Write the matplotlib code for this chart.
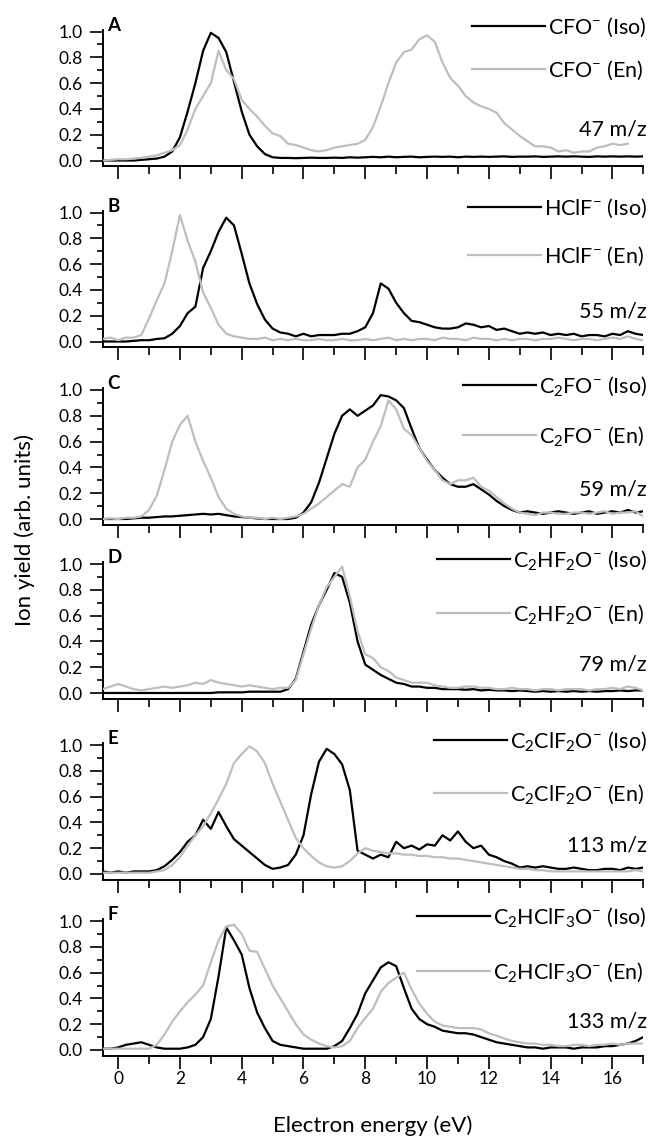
"""Six-panel ion yield curves (Iso vs En) against electron energy."""

import matplotlib
matplotlib.use("Agg")
import matplotlib.pyplot as plt
import numpy as np
from matplotlib.lines import Line2D
from matplotlib.ticker import MultipleLocator

# electron energy grid (eV), 0.25 eV steps
ENERGY = np.arange(-0.5, 17.01, 0.25)

A_ISO = [0.0, 0.0, 0.0, 0.0, 0.0, 0.005, 0.01, 0.015, 0.03, 0.07,
         0.18, 0.38, 0.6, 0.85, 0.99, 0.95, 0.84, 0.61, 0.38, 0.2,
         0.11, 0.05, 0.025, 0.02, 0.02, 0.018, 0.02, 0.022, 0.02, 0.02,
         0.022, 0.02, 0.025, 0.022, 0.025, 0.028, 0.025, 0.03, 0.025, 0.028,
         0.03, 0.025, 0.028, 0.03, 0.028, 0.03, 0.025, 0.03, 0.028, 0.03,
         0.028, 0.03, 0.032, 0.028, 0.03, 0.03, 0.032, 0.028, 0.03, 0.032,
         0.03, 0.032, 0.03, 0.028, 0.032, 0.03, 0.032, 0.03, 0.032, 0.03,
         0.032]
A_EN = [0.0, 0.005, 0.01, 0.01, 0.015, 0.02, 0.03, 0.04, 0.06, 0.08,
        0.12, 0.24, 0.4, 0.5, 0.6, 0.85, 0.7, 0.63, 0.47, 0.4,
        0.34, 0.27, 0.21, 0.19, 0.13, 0.12, 0.1, 0.08, 0.07, 0.08,
        0.1, 0.11, 0.12, 0.13, 0.16, 0.26, 0.42, 0.6, 0.76, 0.84,
        0.86, 0.94, 0.97, 0.92, 0.76, 0.64, 0.58, 0.5, 0.45, 0.42,
        0.4, 0.37, 0.29, 0.24, 0.19, 0.15, 0.11, 0.11, 0.1, 0.07,
        0.08, 0.06, 0.07, 0.07, 0.1, 0.11, 0.13, 0.12, 0.13, np.nan,
        np.nan]
B_ISO = [0.0, 0.0, 0.0, 0.0, 0.005, 0.01, 0.01, 0.02, 0.025, 0.06,
         0.12, 0.22, 0.27, 0.57, 0.7, 0.85, 0.96, 0.9, 0.68, 0.45,
         0.29, 0.17, 0.1, 0.07, 0.06, 0.04, 0.06, 0.04, 0.05, 0.05,
         0.05, 0.06, 0.06, 0.08, 0.11, 0.22, 0.45, 0.41, 0.3, 0.22,
         0.16, 0.15, 0.13, 0.11, 0.1, 0.1, 0.11, 0.14, 0.13, 0.11,
         0.12, 0.09, 0.1, 0.08, 0.06, 0.07, 0.06, 0.07, 0.05, 0.06,
         0.05, 0.06, 0.04, 0.05, 0.05, 0.04, 0.06, 0.05, 0.08, 0.06,
         0.05]
B_EN = [0.02, 0.03, 0.01, 0.03, 0.03, 0.05, 0.18, 0.32, 0.45, 0.7,
        0.98, 0.78, 0.62, 0.38, 0.26, 0.13, 0.06, 0.04, 0.03, 0.02,
        0.02, 0.03, 0.01, 0.02, 0.01, 0.02, 0.01, 0.01, 0.02, 0.01,
        0.01, 0.02, 0.01, 0.01, 0.02, 0.01, 0.02, 0.03, 0.01, 0.02,
        0.01, 0.02, 0.02, 0.01, 0.03, 0.02, 0.02, 0.01, 0.03, 0.02,
        0.02, 0.01, 0.02, 0.01, 0.02, 0.02, 0.01, 0.02, 0.02, 0.03,
        0.02, 0.01, 0.02, 0.02, 0.01, 0.02, 0.03, 0.02, 0.04, 0.02,
        0.01]
C_ISO = [0.0, 0.0, 0.0, 0.0, 0.005, 0.01, 0.01, 0.015, 0.02, 0.02,
         0.025, 0.03, 0.035, 0.04, 0.035, 0.04, 0.03, 0.02, 0.015, 0.01,
         0.005, 0.0, 0.0, 0.0, 0.0, 0.01, 0.05, 0.13, 0.28, 0.47,
         0.66, 0.8, 0.85, 0.8, 0.84, 0.88, 0.96, 0.95, 0.92, 0.86,
         0.7, 0.55, 0.46, 0.38, 0.32, 0.27, 0.25, 0.25, 0.27, 0.23,
         0.19, 0.14, 0.1, 0.07, 0.05, 0.06, 0.05, 0.04, 0.05, 0.06,
         0.05, 0.04, 0.05, 0.06, 0.04, 0.05, 0.06, 0.05, 0.07, 0.05,
         0.06]
C_EN = [0.0, 0.005, 0.0, 0.01, 0.01, 0.02, 0.07, 0.18, 0.38, 0.6,
        0.73, 0.8, 0.6, 0.45, 0.32, 0.17, 0.08, 0.04, 0.02, 0.01,
        0.01, 0.0, 0.01, 0.0, 0.01, 0.02, 0.04, 0.08, 0.12, 0.17,
        0.22, 0.27, 0.25, 0.4, 0.46, 0.6, 0.72, 0.92, 0.85, 0.7,
        0.65, 0.55, 0.45, 0.38, 0.3, 0.27, 0.3, 0.3, 0.32, 0.25,
        0.22, 0.17, 0.12, 0.08, 0.05, 0.04, 0.03, 0.05, 0.05, 0.04,
        0.04, 0.05, 0.05, 0.04, 0.05, 0.06, 0.04, 0.05, 0.05, 0.06,
        0.02]
D_ISO = [0.0, 0.0, 0.0, 0.0, 0.0, 0.0, 0.0, 0.0, 0.0, 0.0,
         0.0, 0.0, 0.0, 0.0, 0.0, 0.005, 0.005, 0.005, 0.005, 0.01,
         0.01, 0.01, 0.01, 0.01, 0.03, 0.11, 0.32, 0.53, 0.68, 0.8,
         0.93, 0.9, 0.7, 0.4, 0.22, 0.18, 0.14, 0.11, 0.08, 0.07,
         0.05, 0.05, 0.04, 0.04, 0.03, 0.03, 0.03, 0.025, 0.03, 0.02,
         0.025, 0.02, 0.02, 0.015, 0.02, 0.015, 0.01, 0.015, 0.01, 0.015,
         0.01, 0.015, 0.01, 0.015, 0.01, 0.015, 0.015, 0.02, 0.015, 0.02,
         0.02]
D_EN = [0.03, 0.05, 0.07, 0.05, 0.03, 0.02, 0.03, 0.04, 0.05, 0.04,
        0.05, 0.06, 0.08, 0.07, 0.1, 0.08, 0.07, 0.06, 0.05, 0.06,
        0.05, 0.04, 0.03, 0.04, 0.04, 0.1, 0.3, 0.5, 0.68, 0.82,
        0.9, 0.98, 0.75, 0.48, 0.3, 0.27, 0.2, 0.17, 0.12, 0.1,
        0.08, 0.08, 0.08, 0.06, 0.05, 0.04, 0.04, 0.05, 0.05, 0.04,
        0.04, 0.03, 0.03, 0.04, 0.03, 0.03, 0.02, 0.03, 0.03, 0.02,
        0.03, 0.03, 0.03, 0.02, 0.03, 0.03, 0.04, 0.03, 0.05, 0.04,
        0.02]
E_ISO = [0.02, 0.01, 0.02, 0.01, 0.02, 0.02, 0.02, 0.03, 0.06, 0.11,
         0.17, 0.25, 0.3, 0.42, 0.35, 0.48, 0.37, 0.27, 0.22, 0.17,
         0.12, 0.07, 0.04, 0.05, 0.07, 0.15, 0.3, 0.62, 0.87, 0.97,
         0.93, 0.85, 0.65, 0.18, 0.15, 0.12, 0.15, 0.13, 0.25, 0.2,
         0.22, 0.19, 0.23, 0.22, 0.3, 0.26, 0.33, 0.25, 0.2, 0.22,
         0.15, 0.13, 0.1, 0.08, 0.05, 0.06, 0.05, 0.06, 0.05, 0.04,
         0.04, 0.05, 0.04, 0.03, 0.03, 0.04, 0.04, 0.03, 0.05, 0.04,
         0.05]
E_EN = [0.01, 0.01, 0.01, 0.01, 0.01, 0.01, 0.01, 0.02, 0.03, 0.07,
        0.13, 0.22, 0.3, 0.37, 0.47, 0.58, 0.7, 0.86, 0.93, 0.99,
        0.95, 0.86, 0.7, 0.56, 0.42, 0.28, 0.2, 0.14, 0.09, 0.06,
        0.05, 0.06, 0.1, 0.16, 0.2, 0.18, 0.17, 0.16, 0.16, 0.15,
        0.15, 0.14, 0.14, 0.13, 0.13, 0.12, 0.12, 0.11, 0.1, 0.09,
        0.08, 0.07, 0.06, 0.05, 0.04, 0.04, 0.03, 0.03, 0.02, 0.02,
        0.02, 0.02, 0.02, 0.02, 0.02, 0.02, 0.02, 0.02, 0.02, 0.03,
        0.02]
F_ISO = [0.01, 0.01, 0.02, 0.04, 0.05, 0.06, 0.04, 0.02, 0.01, 0.01,
         0.01, 0.02, 0.04, 0.1, 0.24, 0.57, 0.95, 0.85, 0.74, 0.48,
         0.29, 0.17, 0.07, 0.04, 0.03, 0.02, 0.01, 0.01, 0.01, 0.01,
         0.03, 0.07, 0.17, 0.28, 0.44, 0.54, 0.64, 0.68, 0.65, 0.48,
         0.32, 0.24, 0.2, 0.18, 0.15, 0.14, 0.13, 0.13, 0.12, 0.1,
         0.08, 0.06, 0.05, 0.04, 0.03, 0.02, 0.02, 0.01, 0.02, 0.02,
         0.02, 0.01, 0.02, 0.02, 0.02, 0.03, 0.03, 0.04, 0.05, 0.07,
         0.1]
F_EN = [0.01, 0.01, 0.01, 0.01, 0.01, 0.01, 0.01, 0.04, 0.12, 0.22,
        0.3, 0.37, 0.43, 0.5, 0.68, 0.85, 0.96, 0.97, 0.9, 0.77,
        0.76, 0.63, 0.5, 0.4, 0.3, 0.2, 0.12, 0.08, 0.05, 0.03,
        0.02, 0.03, 0.07, 0.17, 0.25, 0.32, 0.45, 0.52, 0.56, 0.6,
        0.47, 0.36, 0.28, 0.22, 0.19, 0.18, 0.17, 0.17, 0.17, 0.16,
        0.13, 0.11, 0.09, 0.07, 0.06, 0.05, 0.05, 0.04, 0.04, 0.03,
        0.03, 0.04, 0.04, 0.03, 0.04, 0.04, 0.05, 0.04, 0.05, 0.05,
        0.05]

PANELS = ["A", "B", "C", "D", "E", "F"]
ISO_CURVES = [A_ISO, B_ISO, C_ISO, D_ISO, E_ISO, F_ISO]
EN_CURVES = [A_EN, B_EN, C_EN, D_EN, E_EN, F_EN]
IONS = [r"CFO$^{-}$", r"HClF$^{-}$", r"C$_2$FO$^{-}$", r"C$_2$HF$_2$O$^{-}$",
        r"C$_2$ClF$_2$O$^{-}$", r"C$_2$HClF$_3$O$^{-}$"]
MASSES = ["47 m/z", "55 m/z", "59 m/z", "79 m/z", "113 m/z", "133 m/z"]

ISO_COLOR = "#000000"
EN_COLOR = "#BEBEBE"
FONT = "Lato"
LEGEND_SIZE = 15.5

# layout, in pixels of the 652 x 1137 output
FIG_W, FIG_H = 652, 1137
AX_LEFT, AX_RIGHT = 102.7, 643.3
ZERO_PX = [160.5, 341.5, 519.0, 693.0, 874.0, 1050.0]
UNIT_PX = 129.0
Y_MIN, Y_MAX = -0.045, 1.015
ISO_ROW = 1.04
EN_ROW = [0.71, 0.67, 0.65, 0.62, 0.63, 0.61]
MASS_ROW = [0.24, 0.23, 0.23, 0.22, 0.22, 0.22]
TEXT_RIGHT = 647.0


def _fx(px):
    return px / FIG_W


def _fy(px_from_top):
    return 1 - px_from_top / FIG_H


def _style_axes(ax, bottom):
    for side in ("top", "right"):
        ax.spines[side].set_visible(False)
    for side in ("left", "bottom"):
        ax.spines[side].set_linewidth(1.4)
    ax.set_xlim(-0.5, 17)
    ax.set_ylim(Y_MIN, Y_MAX)
    ax.xaxis.set_major_locator(MultipleLocator(2))
    ax.xaxis.set_minor_locator(MultipleLocator(1))
    ax.yaxis.set_major_locator(MultipleLocator(0.2))
    ax.yaxis.set_minor_locator(MultipleLocator(0.1))
    ax.tick_params(which="major", direction="out", length=9.2, width=1.2,
                   labelsize=12.5)
    ax.tick_params(which="minor", direction="out", width=1.2)
    ax.tick_params(axis="x", which="minor", length=6)
    ax.tick_params(axis="y", which="minor", length=4.5)
    ax.tick_params(axis="y", which="major", pad=5)
    ax.tick_params(axis="x", labelbottom=bottom, pad=2)
    ax.yaxis.set_major_formatter(plt.FuncFormatter(lambda v, _: f"{v:.1f}"))


def main():
    plt.rcParams.update({
        "font.family": [FONT, "DejaVu Sans"],
        "mathtext.fontset": "custom",
        "mathtext.rm": FONT,
        "mathtext.it": FONT + ":italic",
        "mathtext.bf": FONT + ":bold",
    })
    fig = plt.figure(figsize=(FIG_W / 100, FIG_H / 100), dpi=100)

    for i, zero in enumerate(ZERO_PX):
        top = zero - Y_MAX * UNIT_PX
        bot = zero - Y_MIN * UNIT_PX
        ax = fig.add_axes([_fx(AX_LEFT), _fy(bot), _fx(AX_RIGHT - AX_LEFT),
                           (bot - top) / FIG_H])
        ax.patch.set_alpha(0)
        ax.plot(ENERGY, ISO_CURVES[i], color=ISO_COLOR, lw=1.6, zorder=3)
        ax.plot(ENERGY, EN_CURVES[i], color=EN_COLOR, lw=1.6, zorder=4)
        _style_axes(ax, bottom=(i == len(ZERO_PX) - 1))
        ax.text(0.008, 1.05, PANELS[i], transform=ax.get_yaxis_transform(),
                ha="left", va="center", fontsize=13.5, fontweight="bold",
                clip_on=False)

    # hand-built legends, text right-aligned near the figure edge
    cap_half = 0.36 * LEGEND_SIZE * 100 / 72
    iso_texts = []
    for i, zero in enumerate(ZERO_PX):
        y_iso = zero - ISO_ROW * UNIT_PX
        t = fig.text(_fx(TEXT_RIGHT), _fy(y_iso + cap_half), IONS[i] + " (Iso)",
                     ha="right", va="baseline", fontsize=LEGEND_SIZE)
        iso_texts.append(t)
        y_mass = zero - MASS_ROW[i] * UNIT_PX
        fig.text(_fx(TEXT_RIGHT), _fy(y_mass), MASSES[i], ha="right",
                 va="center", fontsize=LEGEND_SIZE)

    fig.canvas.draw()
    renderer = fig.canvas.get_renderer()
    for i, zero in enumerate(ZERO_PX):
        left = iso_texts[i].get_window_extent(renderer).x0
        y_iso = zero - ISO_ROW * UNIT_PX
        y_en = zero - EN_ROW[i] * UNIT_PX
        fig.text(_fx(left), _fy(y_en + cap_half), IONS[i] + " (En)",
                 ha="left", va="baseline", fontsize=LEGEND_SIZE)
        for y_row, color in ((y_iso, ISO_COLOR), (y_en, EN_COLOR)):
            fig.add_artist(Line2D([_fx(left - 76), _fx(left - 3)],
                                  [_fy(y_row), _fy(y_row)],
                                  transform=fig.transFigure, color=color,
                                  lw=1.6))

    fig.text(_fx(25), _fy(530), "Ion yield (arb. units)", rotation=90,
             ha="center", va="center", fontsize=16)
    fig.text(_fx((AX_LEFT + AX_RIGHT) / 2), _fy(1126),
             "Electron energy (eV)", ha="center", va="center", fontsize=16)

    fig.savefig("out.png", dpi=100)
    plt.close(fig)


if __name__ == "__main__":
    main()
